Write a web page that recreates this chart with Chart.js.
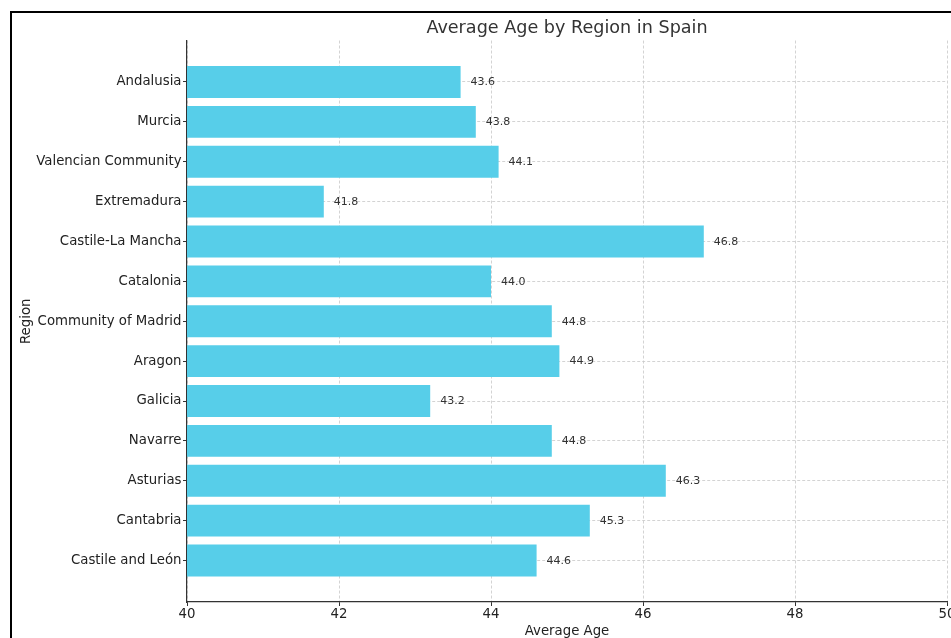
<!DOCTYPE html>
<html>
<head>
<meta charset="utf-8">
<script src="https://cdn.jsdelivr.net/npm/chart.js@4"></script>
<style>
  html, body { margin: 0; padding: 0; background: #fff; }
  #wrap { position: relative; width: 951px; height: 638px; overflow: hidden; }
  #chart { position: absolute; left: 0; top: 0; }
  #frame { position: absolute; left: 10px; top: 11px; width: 1000px; height: 700px;
           border: 2px solid #000; pointer-events: none; }
</style>
</head>
<body>
<div id="wrap">
  <canvas id="chart" width="1000" height="660"></canvas>
  <div id="frame"></div>
</div>
<script>
const regions = ['Andalusia', 'Murcia', 'Valencian Community', 'Extremadura', 'Castile-La Mancha',
  'Catalonia', 'Community of Madrid', 'Aragon', 'Galicia', 'Navarre', 'Asturias', 'Cantabria',
  'Castile and León'];
const avgAge = [43.6, 43.8, 44.1, 41.8, 46.8, 44.0, 44.8, 44.9, 43.2, 44.8, 46.3, 45.3, 44.6];
const xTicks = [40, 42, 44, 46, 48, 50];

const font = 'DejaVu Sans';
const barColor = 'rgb(87, 206, 233)';

// value labels at the end of each bar
const valueLabels = {
  id: 'valueLabels',
  afterDatasetsDraw(chart) {
    const ctx = chart.ctx;
    const meta = chart.getDatasetMeta(0);
    ctx.save();
    ctx.font = '11px "' + font + '"';
    ctx.fillStyle = '#333';
    ctx.textAlign = 'left';
    ctx.textBaseline = 'middle';
    meta.data.forEach((bar, i) => {
      ctx.fillText(avgAge[i].toFixed(1), bar.x + 10, bar.y + 0.5);
    });
    ctx.restore();
  }
};

new Chart(document.getElementById('chart'), {
  type: 'bar',
  data: {
    datasets: [{
      label: 'Average Age',
      data: avgAge.map((v, i) => ({ x: v, y: i })),
      backgroundColor: barColor,
      borderWidth: 0,
      barPercentage: 1,
      categoryPercentage: 0.8
    }]
  },
  options: {
    indexAxis: 'y',
    responsive: false,
    animation: false,
    layout: { padding: { left: 0, right: 53, top: 0, bottom: 21 } },
    plugins: {
      legend: { display: false },
      tooltip: { enabled: false },
      title: {
        display: true,
        fullSize: false,
        text: 'Average Age by Region in Spain',
        color: '#333',
        font: { family: font, size: 17.6, weight: 'normal' },
        padding: { top: 18, bottom: 1.4 }
      }
    },
    scales: {
      x: {
        type: 'linear',
        min: 40,
        max: 50,
        z: 1,
        afterBuildTicks(scale) { scale.ticks = xTicks.map(v => ({ value: v })); },
        afterFit(scale) { scale.height = 37; },
        ticks: { color: '#222', font: { family: font, size: 13.3 }, padding: 1 },
        grid: { color: 'rgba(200,200,200,0.8)', tickColor: '#333', tickLength: 4, lineWidth: 1 },
        border: { color: '#333', width: 1.2, dash: [3, 2] },
        title: {
          display: true,
          text: 'Average Age',
          color: '#222',
          font: { family: font, size: 13.3 },
          padding: { top: 0, bottom: -0.4 }
        }
      },
      y: {
        type: 'linear',
        reverse: true,
        offset: false,
        min: -1.04,
        max: regions.length - 1 + 1.04,
        z: 1,
        afterBuildTicks(scale) { scale.ticks = regions.map((r, i) => ({ value: i })); },
        afterFit(scale) { scale.width = 187; },
        ticks: {
          color: '#222',
          font: { family: font, size: 13.3 },
          padding: 1.5,
          callback: (v) => regions[v]
        },
        grid: { offset: false, color: 'rgba(200,200,200,0.8)', tickColor: '#333', tickLength: 4, lineWidth: 1 },
        border: { color: '#333', width: 1.2, dash: [3, 2] },
        title: {
          display: true,
          text: 'Region',
          color: '#222',
          font: { family: font, size: 13.3 },
          padding: { top: 18.6, bottom: 0 }
        }
      }
    }
  },
  plugins: [valueLabels]
});
</script>
</body>
</html>
